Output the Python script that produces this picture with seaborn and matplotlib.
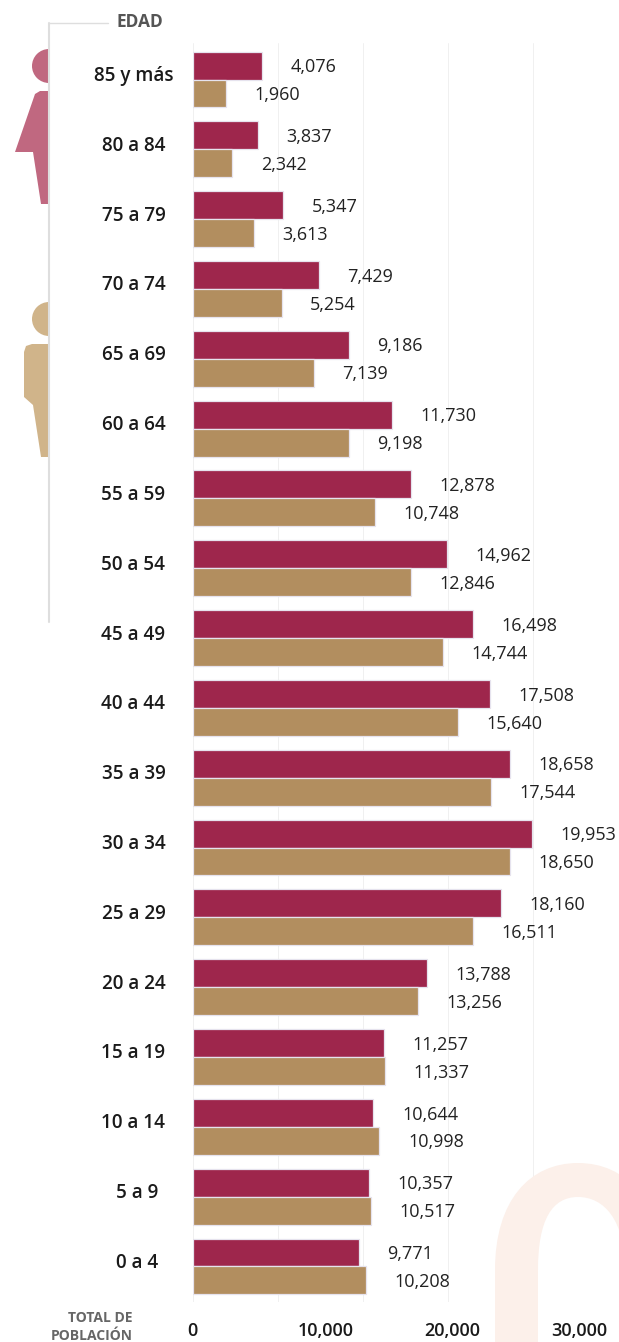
import pandas as pd
import matplotlib
matplotlib.use('Agg')
import matplotlib.pyplot as plt
import seaborn as sns
from matplotlib.lines import Line2D
from matplotlib.patches import PathPatch, Polygon, Wedge
from matplotlib.path import Path
from matplotlib.transforms import Affine2D, ScaledTranslation

# Datos de la piramide
edades = ['85 y más', '80 a 84', '75 a 79', '70 a 74', '65 a 69', '60 a 64', '55 a 59', '50 a 54', '45 a 49',
          '40 a 44', '35 a 39', '30 a 34', '25 a 29', '20 a 24', '15 a 19', '10 a 14', '5 a 9', '0 a 4']
mujeres = [4076, 3837, 5347, 7429, 9186, 11730, 12878, 14962, 16498,
           17508, 18658, 19953, 18160, 13788, 11257, 10644, 10357, 9771]
hombres = [1960, 2342, 3613, 5254, 7139, 9198, 10748, 12846, 14744,
           15640, 17544, 18650, 16511, 13256, 11337, 10998, 10517, 10208]
grid_ticks = [0, 5000, 10000, 15000, 20000]
eje_labels = ['0', '10,000', '20,000', '30,000']
eje_px = [192, 326, 452, 579]

W, H = 619, 1342
GUINDA = '#9e264c'
OCRE = '#b28e5f'

sns.set_theme(style='white')
plt.rcParams['font.family'] = ['Open Sans', 'DejaVu Sans']

df = pd.DataFrame({
    'edad': edades * 2,
    'total': mujeres + hombres,
    'sexo': ['Mujeres'] * len(edades) + ['Hombres'] * len(edades),
})

fig = plt.figure(figsize=(W / 100, H / 100), dpi=100, facecolor='white')
# coordenadas en pixeles, origen arriba a la izquierda
px = Affine2D().scale(1 / W, -1 / H).translate(0, 1) + fig.transFigure

# Fondo: arco y siluetas
arco = Path(
    [(495, 1342), (495, 1270),
     (495, 1200), (530, 1163), (578, 1163),
     (626, 1163), (661, 1200), (661, 1270),
     (661, 1342), (625, 1342), (625, 1270),
     (625, 1220), (604, 1197), (578, 1197),
     (552, 1197), (538, 1220), (538, 1270),
     (538, 1342), (495, 1342)],
    [Path.MOVETO, Path.LINETO,
     Path.CURVE4, Path.CURVE4, Path.CURVE4,
     Path.CURVE4, Path.CURVE4, Path.CURVE4,
     Path.LINETO, Path.LINETO, Path.LINETO,
     Path.CURVE4, Path.CURVE4, Path.CURVE4,
     Path.CURVE4, Path.CURVE4, Path.CURVE4,
     Path.LINETO, Path.CLOSEPOLY],
)
fig.add_artist(PathPatch(arco, transform=px, fc='#fcf0ea', ec='none'))

fig.add_artist(Wedge((49, 66), 17, 90, 270, transform=px, fc='#c06880', ec='none'))
fig.add_artist(Polygon([(49, 91), (40, 91), (35, 94), (15, 152), (33, 152), (41, 204), (49, 204)],
                       transform=px, fc='#c06880', ec='none'))
fig.add_artist(Wedge((49, 319), 17, 90, 270, transform=px, fc='#d0b48a', ec='none'))
fig.add_artist(Polygon([(49, 344), (32, 344), (26, 346), (24, 352), (24, 397), (33, 405), (41, 457), (49, 457)],
                       transform=px, fc='#d0b48a', ec='none'))

fig.add_artist(Line2D([49, 49], [23, 622], transform=px, color='#dedede', lw=1.5))
fig.add_artist(Line2D([49, 108], [23, 23], transform=px, color='#dedede', lw=1))

# Barras
ax = fig.add_axes([192.5 / W, 1 - 1302 / H, (W - 192.5) / W, (1302 - 43) / H])
ax.patch.set_alpha(0)
sns.barplot(data=df, x='total', y='edad', hue='sexo', order=edades, hue_order=['Mujeres', 'Hombres'],
            palette=[GUINDA, OCRE], saturation=1, width=0.8, gap=0.0, edgecolor='#e6e3ee', linewidth=0.9,
            legend=False, ax=ax, zorder=3)

ax.set_xlim(0, (W - 192.5) / 0.017)
ax.set_ylim((1302 - 79.5) / 69.82, (43 - 79.5) / 69.82)
ax.set_xlabel('')
ax.set_ylabel('')
sns.despine(ax=ax, left=True, bottom=True)

ax.set_xticks(grid_ticks)
ax.set_xticklabels([])
ax.grid(axis='x', color='#f0f0f0', lw=0.7, zorder=0)
ax.grid(axis='y', visible=False)
ax.tick_params(axis='x', length=0)
ax.tick_params(axis='y', length=0, pad=42.5)
for lab in ax.get_yticklabels():
    # las etiquetas cortas van un poco mas a la derecha
    dx = 4 if len(lab.get_text()) == 5 else 0
    offset = ScaledTranslation(dx / 100, 6 / 100, fig.dpi_scale_trans)
    lab.set_ha('center')
    lab.set_fontsize(13.6)
    lab.set_fontweight('semibold')
    lab.set_color('#1a1a1a')
    lab.set_transform(lab.get_transform() + offset)

for cont in ax.containers:
    etiquetas = ax.bar_label(cont, fmt='{:,.0f}', padding=20.5, fontsize=13, color='#222222', clip_on=False)
    for et in etiquetas:
        et.xyann = (et.xyann[0], -1.2)

# Textos fuera del area de barras
fig.text(117 / W, 1 - 22 / H, 'EDAD', fontsize=12.5, fontweight='bold', color='#555555', va='center', ha='left')
fig.text(133 / W, 1 - 1318 / H, 'TOTAL DE', fontsize=10, fontweight='bold', color='#666666', va='center', ha='right')
fig.text(133 / W, 1 - 1336 / H, 'POBLACIÓN', fontsize=10, fontweight='bold', color='#666666', va='center', ha='right')
for lab, x in zip(eje_labels, eje_px):
    fig.text(x / W, 1 - 1331 / H, lab, fontsize=13, fontweight='semibold', color='#1a1a1a', va='center', ha='center')

fig.savefig('out.png', dpi=100)
